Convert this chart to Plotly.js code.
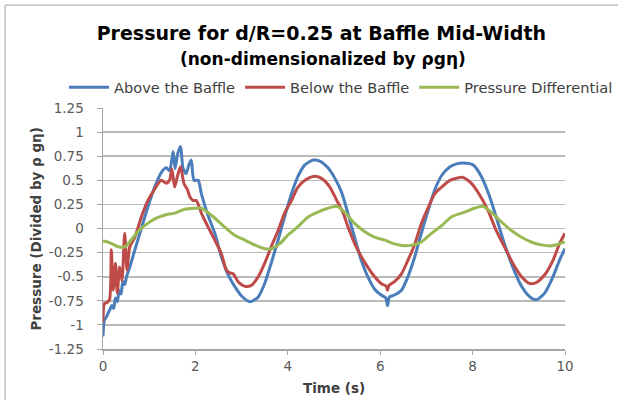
<!DOCTYPE html>
<html>
<head>
<meta charset="utf-8">
<script src="https://cdn.plot.ly/plotly-3.0.1.min.js"></script>
<style>html,body{margin:0;padding:0;background:#fff;}#chart{width:618px;height:400px;}</style>
</head>
<body>
<div id="chart"></div>
<script>
// ---- data ----
var seriesNames = ["Above the Baffle", "Below the Baffle", "Pressure Differential"];

var tAbove = [0,0.03,0.07,0.11,0.15,0.19,0.23,0.27,0.31,0.35,0.39,0.43,0.47,0.51,0.58,0.69,0.83,0.97,1.12,1.26,
  1.37,1.44,1.52,1.56,1.62,1.68,1.73,1.8,1.86,1.91,1.97,2.06,2.13,2.27,2.42,2.56,2.71,2.85,3.0,3.18,
  3.36,3.5,3.64,3.79,3.93,4.08,4.22,4.37,4.55,4.69,4.87,5.02,5.16,5.3,5.45,5.59,5.73,5.88,6.02,6.12,
  6.16,6.2,6.31,6.46,6.6,6.75,6.89,7.04,7.18,7.33,7.51,7.65,7.8,8.01,8.19,8.37,8.51,8.69,8.87,9.06,
  9.24,9.38,9.56,9.74,9.88,10.0];
var pAbove = [-1.12,-0.95,-0.92,-0.88,-0.84,-0.8,-0.83,-0.72,-0.76,-0.64,-0.68,-0.55,-0.58,-0.5,-0.4,-0.22,0.0,0.22,0.43,0.58,
  0.63,0.6,0.8,0.62,0.78,0.85,0.63,0.57,0.66,0.71,0.5,0.5,0.36,0.14,-0.05,-0.29,-0.48,-0.6,-0.7,-0.76,
  -0.71,-0.57,-0.36,-0.12,0.12,0.36,0.54,0.66,0.71,0.70,0.63,0.52,0.38,0.16,-0.1,-0.33,-0.5,-0.63,-0.69,-0.72,
  -0.8,-0.71,-0.69,-0.64,-0.5,-0.29,-0.05,0.19,0.4,0.55,0.64,0.67,0.68,0.66,0.54,0.33,0.12,-0.16,-0.4,-0.6,
  -0.71,-0.74,-0.67,-0.5,-0.33,-0.21];

var tBelow = [0,0.03,0.08,0.14,0.18,0.22,0.27,0.31,0.36,0.41,0.47,0.52,0.58,0.69,0.83,0.97,1.12,1.26,1.37,1.44,
  1.49,1.55,1.61,1.68,1.75,1.83,1.88,1.95,2.02,2.13,2.27,2.42,2.56,2.67,2.74,2.82,2.92,3.07,3.21,3.36,
  3.5,3.64,3.79,3.93,4.08,4.22,4.37,4.55,4.73,4.91,5.05,5.2,5.3,5.45,5.59,5.73,5.88,6.02,6.13,6.16,
  6.19,6.31,6.46,6.6,6.75,6.89,7.04,7.18,7.33,7.51,7.79,7.97,8.15,8.33,8.51,8.69,8.87,9.06,9.24,9.38,
  9.56,9.74,9.88,10.0];
var pBelow = [-0.97,-0.78,-0.77,-0.74,-0.22,-0.64,-0.36,-0.67,-0.4,-0.54,-0.05,-0.43,-0.19,-0.09,0.12,0.29,0.41,0.5,0.47,0.5,
  0.62,0.43,0.54,0.64,0.47,0.4,0.33,0.29,0.29,0.16,0.02,-0.12,-0.26,-0.43,-0.46,-0.47,-0.55,-0.6,-0.59,-0.5,
  -0.36,-0.19,-0.02,0.16,0.29,0.43,0.5,0.54,0.52,0.43,0.3,0.16,0.02,-0.16,-0.29,-0.4,-0.5,-0.57,-0.6,-0.64,
  -0.59,-0.55,-0.47,-0.33,-0.16,0.05,0.22,0.36,0.43,0.5,0.53,0.47,0.35,0.19,-0.02,-0.19,-0.36,-0.5,-0.57,-0.56,
  -0.48,-0.33,-0.16,-0.05];

var tDiff = [0,0.1,0.2,0.33,0.47,0.61,0.76,0.9,1.12,1.34,1.55,1.77,1.98,2.13,2.34,2.6,2.85,3.07,3.28,3.5,
  3.64,3.82,4.0,4.22,4.44,4.65,4.87,5.06,5.23,5.45,5.66,5.88,6.1,6.31,6.53,6.71,6.89,7.11,7.33,7.54,
  7.83,8.04,8.22,8.4,8.62,8.84,9.06,9.27,9.49,9.71,9.88,10.0];
var pDiff = [-0.13,-0.14,-0.16,-0.19,-0.19,-0.12,-0.03,0.03,0.1,0.14,0.16,0.2,0.21,0.21,0.14,0.03,-0.07,-0.12,-0.17,-0.21,
  -0.21,-0.16,-0.07,0.02,0.12,0.17,0.21,0.23,0.17,0.05,-0.03,-0.09,-0.12,-0.16,-0.18,-0.17,-0.14,-0.05,0.03,0.12,
  0.17,0.21,0.23,0.17,0.07,-0.02,-0.09,-0.14,-0.17,-0.18,-0.16,-0.14];

var yTickVals = [1.25,1,0.75,0.5,0.25,0,-0.25,-0.5,-0.75,-1,-1.25];
var yTickText = ["1.25","1","0.75","0.5","0.25","0","-0.25","-0.5","-0.75","-1","-1.25"];
var xTickVals = [0,2,4,6,8,10];
var xTickText = ["0","2","4","6","8","10"];

var colors = ["#4a7ebb", "#be4b48", "#98b954"];
var FONT = "DejaVu Sans, Liberation Sans, sans-serif";

var traces = [
  {x: tAbove, y: pAbove, name: seriesNames[0]},
  {x: tBelow, y: pBelow, name: seriesNames[1]},
  {x: tDiff,  y: pDiff,  name: seriesNames[2]}
].map(function(s, i){
  s.type = "scatter"; s.mode = "lines";
  s.line = {color: colors[i], width: 3, shape: "spline", smoothing: 0.7};
  return s;
});

var layout = {
  width: 618, height: 400,
  margin: {l: 103, r: 53, t: 108, b: 51, pad: 0},
  paper_bgcolor: "#ffffff", plot_bgcolor: "#ffffff",
  font: {family: FONT, color: "#595959", size: 13},
  showlegend: true,
  title: {text: "<b>Pressure for d/R=0.25 at Baffle Mid-Width</b>", font: {family: FONT, size: 19, color: "#000000"},
          x: 0.52, xanchor: "center", y: 0.9175, yanchor: "middle"},
  legend: {orientation: "h", x: -0.079, xanchor: "left", y: 1.152, yanchor: "top",
           font: {family: FONT, size: 14.6, color: "#404040"}, itemwidth: 40, tracegroupgap: 0,
           bgcolor: "rgba(0,0,0,0)"},
  xaxis: {range: [0, 10], tickvals: xTickVals, ticktext: xTickText, showgrid: false, zeroline: false,
          showline: true, linecolor: "#a6a6a6", linewidth: 1.5, ticks: "outside", ticklen: 4, tickcolor: "#a6a6a6",
          tickfont: {family: FONT, size: 13.5, color: "#595959"}},
  yaxis: {range: [-1.25, 1.25], tickvals: yTickVals, ticktext: yTickText, showgrid: true, gridcolor: "#bababa", gridwidth: 1.6,
          zeroline: false, showline: true, linecolor: "#a6a6a6", linewidth: 1.5, ticks: "outside", ticklen: 5, tickcolor: "#a6a6a6",
          tickfont: {family: FONT, size: 13.5, color: "#595959"}, ticklabelstandoff: 10},
  annotations: [
    {text: "<b>(non-dimensionalized by ρgη)</b>", xref: "paper", yref: "paper", x: 0.476, y: 1.203,
     xanchor: "center", yanchor: "middle", showarrow: false, font: {family: FONT, size: 17, color: "#000000"}},
    {text: "<b>Pressure (Divided by ρ gη)</b>", xref: "paper", yref: "paper", x: -0.147, y: 0.5, textangle: -90,
     xanchor: "center", yanchor: "middle", showarrow: false, font: {family: FONT, size: 13.5, color: "#404040"}},
    {text: "<b>Time (s)</b>", xref: "paper", yref: "paper", x: 0.5, y: -0.162,
     xanchor: "center", yanchor: "middle", showarrow: false, font: {family: FONT, size: 13.5, color: "#404040"}}
  ],
  shapes: [{type: "rect", xref: "paper", yref: "paper", x0: -0.212, x1: 1.2, y0: -0.3, y1: 1.427,
            line: {color: "#a0a0a0", width: 1}, fillcolor: "rgba(0,0,0,0)", layer: "below"}]
};

Plotly.newPlot("chart", traces, layout, {displayModeBar: false, staticPlot: true});
</script>
</body>
</html>
